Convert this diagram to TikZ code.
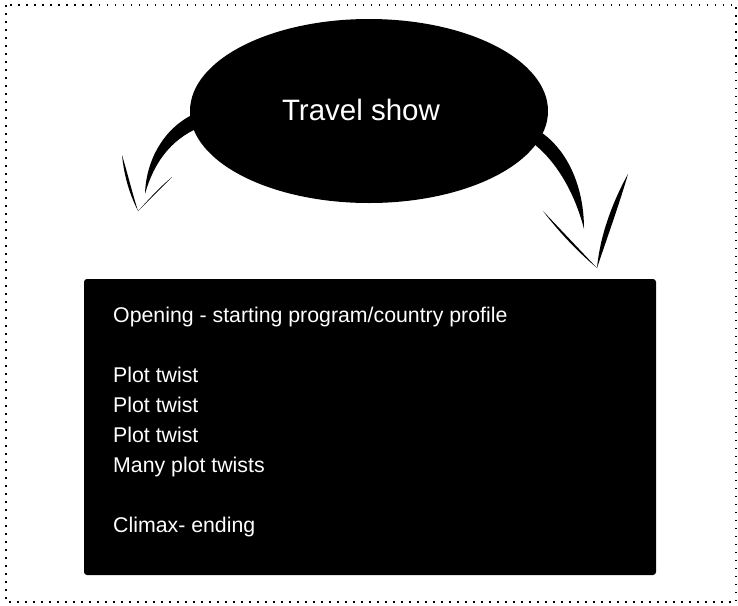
\documentclass[tikz,border=0pt]{standalone}
\usepackage{fontspec}
\setmainfont{Liberation Sans}
\usetikzlibrary{shapes.geometric}
\begin{document}
\begin{tikzpicture}[x=1pt,y=-1pt,
  border/.style={line width=1.5pt,dash pattern=on 1.5pt off 6.5pt},
  itemtext/.style={text=white,anchor=base west,inner sep=0,font=\fontsize{21.3}{25}\selectfont},
  stroke/.style={fill=black}]
\useasboundingbox (0,0) rectangle (738,605);
\draw[border] (6,5) rectangle (736,602);
% curved arrows (drawn under the ellipse)
\fill[stroke] (194,114) .. controls (164,128) and (146,160) .. (145,194)
  .. controls (154,162) and (171,140) .. (198,128) -- cycle;
\fill[stroke] (122,155) .. controls (128,175) and (132,192) .. (138,211)
  .. controls (129,193) and (124,175) .. cycle;
\fill[stroke] (138,211) .. controls (150,198) and (160,187) .. (172,177)
  .. controls (160,189) and (149,200) .. cycle;
\fill[stroke] (534,128) .. controls (564,144) and (584,182) .. (584,229)
  .. controls (574,190) and (554,158) .. (530,141) -- cycle;
\fill[stroke] (543,211) .. controls (561,230) and (579,249) .. (597,268)
  .. controls (577,251) and (559,232) .. cycle;
\fill[stroke] (597,268) .. controls (600,236) and (612,203) .. (628,174)
  .. controls (619,205) and (607,238) .. cycle;
% ellipse
\node[ellipse,fill=black,minimum width=358pt,minimum height=184pt,inner sep=0] (show) at (369,111) {};
\node[text=white,anchor=base,inner sep=0,font=\fontsize{29.5}{34}\selectfont] (title) at (361,120) {Travel show};
% box
\node[fill=black,rounded corners=3pt,minimum width=572pt,minimum height=296pt,inner sep=0] (box) at (370,427) {};
\node[itemtext] (t1) at (113,322) {Opening - starting program/country profile};
\node[itemtext] (t2) at (113,382) {Plot twist};
\node[itemtext] (t3) at (113,412) {Plot twist};
\node[itemtext] (t4) at (113,442) {Plot twist};
\node[itemtext] (t5) at (113,472) {Many plot twists};
\node[itemtext] (t6) at (113,532) {Climax- ending};
\end{tikzpicture}
\end{document}
